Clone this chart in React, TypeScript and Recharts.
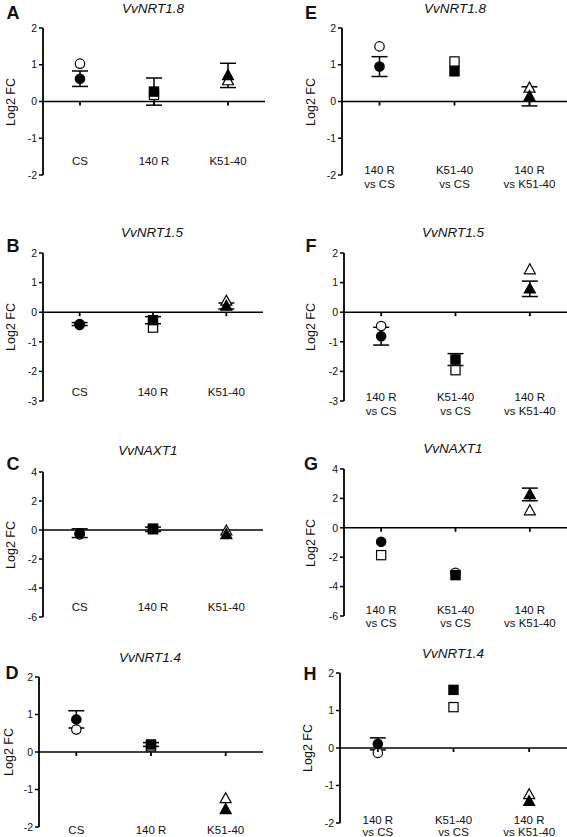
import React from "react";
import {
  ComposedChart, Scatter, ErrorBar, XAxis, YAxis, ReferenceLine,
} from "recharts";

// categories
const ROOTSTOCKS = ["CS", "140 R", "K51-40"];
const COMPARISONS = ["140 R vs CS", "K51-40 vs CS", "140 R vs K51-40"];
const COMP_LINE1 = ["140 R", "K51-40", "140 R"];
const COMP_LINE2 = ["vs CS", "vs CS", "vs K51-40"];

// A–D: rootstock vs control; E–H: pairwise comparisons
// open = RNA-seq, filled = qPCR (mean ± SE)
const aOpen = [1.03, 0.18, 0.57];
const aFilled = [0.62, 0.27, 0.71];
const aErr = [0.21, 0.37, 0.33];

const bOpen = [-0.43, -0.52, 0.38];
const bFilled = [-0.4, -0.27, 0.21];
const bErr = [0.05, 0.12, 0.1];

const cOpen = [-0.3, 0.1, -0.05];
const cFilled = [-0.22, 0.05, -0.3];
const cErr = [0.3, 0.15, 0];

const dOpen = [0.6, 0.15, -1.24];
const dFilled = [0.87, 0.2, -1.53];
const dErr = [0.23, 0.05, 0];

const eOpen = [1.5, 1.09, 0.37];
const eFilled = [0.95, 0.82, 0.14];
const eErr = [0.27, 0, 0.26];

const fOpen = [-0.47, -1.96, 1.44];
const fFilled = [-0.81, -1.6, 0.79];
const fErr = [0.3, 0.2, 0.26];

const gOpen = [-1.86, -3.06, 1.17];
const gFilled = [-0.95, -3.22, 2.27];
const gErr = [0, 0, 0.43];

const hOpen = [-0.13, 1.09, -1.24];
const hFilled = [0.11, 1.55, -1.42];
const hErr = [0.16, 0, 0];

const FONT = '"Liberation Sans", Arial, sans-serif';
const SHAPES = ["circle", "square", "triangle"];

type Panel = {
  letter: string; title: string;
  cats: string[]; open: number[]; filled: number[]; err: number[];
  openShapes?: string[];
  left: number; top: number; width: number; height: number;
  axisX: number; yTop: number; yBottom: number; right: number;
  domain: [number, number]; ticks: number[];
  labelY: number[]; letterX: number; letterY: number;
  titleX: number; titleY: number; yLabelX: number;
};

const PANELS: Panel[] = [
  { letter: "A", title: "VvNRT1.8", cats: ROOTSTOCKS, open: aOpen, filled: aFilled, err: aErr,
    left: 0, top: 0, width: 283, height: 200, axisX: 43, yTop: 28, yBottom: 175, right: 265,
    domain: [-2, 2], ticks: [-2, -1, 0, 1, 2], labelY: [161], letterX: 13, letterY: 13, titleX: 153, titleY: 8, yLabelX: 11 },
  { letter: "B", title: "VvNRT1.5", cats: ROOTSTOCKS, open: bOpen, filled: bFilled, err: bErr,
    left: 0, top: 200, width: 283, height: 210, axisX: 43, yTop: 253, yBottom: 401, right: 263,
    domain: [-3, 2], ticks: [-3, -2, -1, 0, 1, 2], labelY: [392], letterX: 13, letterY: 246, titleX: 152, titleY: 232, yLabelX: 11 },
  { letter: "C", title: "VvNAXT1", cats: ROOTSTOCKS, open: cOpen, filled: cFilled, err: cErr,
    left: 0, top: 410, width: 283, height: 216, axisX: 43, yTop: 472, yBottom: 617, right: 263,
    domain: [-6, 4], ticks: [-6, -4, -2, 0, 2, 4], labelY: [607], letterX: 13, letterY: 464, titleX: 148, titleY: 450, yLabelX: 11 },
  { letter: "D", title: "VvNRT1.4", cats: ROOTSTOCKS, open: dOpen, filled: dFilled, err: dErr,
    left: 0, top: 620, width: 283, height: 217, axisX: 39, yTop: 677, yBottom: 827, right: 263,
    domain: [-2, 2], ticks: [-2, -1, 0, 1, 2], labelY: [830], letterX: 12, letterY: 673, titleX: 150, titleY: 657, yLabelX: 9 },
  { letter: "E", title: "VvNRT1.8", cats: COMPARISONS, open: eOpen, filled: eFilled, err: eErr,
    left: 283, top: 0, width: 284, height: 200, axisX: 342, yTop: 28, yBottom: 175, right: 567,
    domain: [-2, 2], ticks: [-2, -1, 0, 1, 2], labelY: [170, 184], letterX: 311, letterY: 13, titleX: 455, titleY: 8, yLabelX: 311 },
  { letter: "F", title: "VvNRT1.5", cats: COMPARISONS, open: fOpen, filled: fFilled, err: fErr,
    left: 283, top: 200, width: 284, height: 220, axisX: 344, yTop: 253, yBottom: 401, right: 567,
    domain: [-3, 2], ticks: [-3, -2, -1, 0, 1, 2], labelY: [397, 411], letterX: 311, letterY: 246, titleX: 453, titleY: 232, yLabelX: 311 },
  { letter: "G", title: "VvNAXT1", cats: COMPARISONS, open: gOpen, filled: gFilled, err: gErr,
    openShapes: ["square", "circle", "triangle"],
    left: 283, top: 410, width: 284, height: 220, axisX: 344, yTop: 469, yBottom: 616, right: 567,
    domain: [-6, 4], ticks: [-6, -4, -2, 0, 2, 4], labelY: [610, 623], letterX: 311, letterY: 464, titleX: 453, titleY: 448, yLabelX: 311 },
  { letter: "H", title: "VvNRT1.4", cats: COMPARISONS, open: hOpen, filled: hFilled, err: hErr,
    left: 283, top: 620, width: 284, height: 217, axisX: 340, yTop: 673, yBottom: 823, right: 567,
    domain: [-2, 2], ticks: [-2, -1, 0, 1, 2], labelY: [820, 832], letterX: 310, letterY: 674, titleX: 453, titleY: 653, yLabelX: 308 },
];

function Marker({ cx, cy, kind, filled }: { cx: number; cy: number; kind: string; filled: boolean }) {
  const fill = filled ? "#000" : "#fff";
  const common = { fill, stroke: "#000", strokeWidth: 1.2 };
  if (kind === "circle") return <circle cx={cx} cy={cy} r={4.7} {...common} />;
  if (kind === "square") return <rect x={cx - 4.6} y={cy - 4.6} width={9.2} height={9.2} {...common} />;
  return <polygon points={`${cx},${cy - 5.8} ${cx + 5.5},${cy + 4.2} ${cx - 5.5},${cy + 4.2}`} {...common} />;
}

function PanelChart({ p }: { p: Panel }) {
  const rows = p.cats.map((c, i) => ({
    cat: c, i, open: p.open[i], filled: p.filled[i], err: p.err[i],
    errY: p.err[i] > 0 ? p.filled[i] : null,
  }));
  const pxPerUnit = (p.yBottom - p.yTop) / (p.domain[1] - p.domain[0]);
  const zeroY = p.yTop - p.top + pxPerUnit * p.domain[1];
  const pad = (p.right - p.axisX) / 6;
  const comp = p.cats === COMPARISONS;
  const openShapes = p.openShapes || SHAPES;

  const CatTick = (props: any) => {
    const idx = p.cats.indexOf(props.payload.value);
    const lines = comp ? [COMP_LINE1[idx], COMP_LINE2[idx]] : [p.cats[idx]];
    return (
      <g>
        <line x1={props.x} x2={props.x} y1={zeroY} y2={zeroY + 4} stroke="#000" strokeWidth={1.8} />
        {lines.map((t, k) => (
          <text key={k} x={props.x} y={p.labelY[k] - p.top} textAnchor="middle" dominantBaseline="central"
            fontSize={11.5} fontFamily={FONT} fill="#111">{t}</text>
        ))}
      </g>
    );
  };

  return (
    <div style={{ position: "absolute", left: p.left, top: p.top }}>
      <ComposedChart
        width={p.width} height={p.height} data={rows}
        margin={{ top: p.yTop - p.top, right: p.left + p.width - p.right, bottom: p.top + p.height - p.yBottom - 1, left: 0 }}
      >
        <XAxis dataKey="cat" type="category" allowDuplicatedCategory={false} height={1} padding={{ left: pad, right: pad }}
          axisLine={false} tickLine={false} interval={0} tick={CatTick} />
        <YAxis
          type="number" domain={p.domain} ticks={p.ticks} allowDataOverflow interval={0}
          width={p.axisX - p.left} tickSize={4} tickMargin={2}
          axisLine={{ stroke: "#000", strokeWidth: 1.8 }} tickLine={{ stroke: "#000", strokeWidth: 1.5 }}
          tick={{ fontSize: 10.5, fill: "#111", fontFamily: FONT }}
        />
        <ReferenceLine y={0} stroke="#000" strokeWidth={1.6} />
        <Scatter dataKey="open" isAnimationActive={false}
          shape={(s: any) => <Marker cx={s.cx} cy={s.cy} kind={openShapes[s.payload.i]} filled={false} />} />
        <Scatter dataKey="errY" isAnimationActive={false} shape={() => <g />}>
          <ErrorBar dataKey="err" direction="y" width={8} stroke="#000" strokeWidth={1.5} />
        </Scatter>
        <Scatter dataKey="filled" isAnimationActive={false}
          shape={(s: any) => <Marker cx={s.cx} cy={s.cy} kind={SHAPES[s.payload.i]} filled />} />
      </ComposedChart>
    </div>
  );
}

function Labels({ p }: { p: Panel }) {
  const mid = (p.yTop + p.yBottom) / 2;
  const center = { position: "absolute" as const, transform: "translate(-50%, -50%)", whiteSpace: "nowrap" as const, fontFamily: FONT, color: "#111" };
  return (
    <>
      <div style={{ ...center, left: p.letterX, top: p.letterY, fontSize: 18, fontWeight: 700 }}>{p.letter}</div>
      <div style={{ ...center, left: p.titleX, top: p.titleY, fontSize: 13.5, fontStyle: "italic" }}>{p.title}</div>
      <div style={{ ...center, left: p.yLabelX, top: mid, fontSize: 12.5, transform: "translate(-50%, -50%) rotate(-90deg)" }}>Log2 FC</div>
    </>
  );
}

export default function App() {
  return (
    <div style={{ position: "absolute", left: 0, top: 0, width: 567, height: 837, background: "#fff", overflow: "hidden" }}>
      {PANELS.map((p) => <PanelChart key={p.letter} p={p} />)}
      {PANELS.map((p) => <Labels key={"l" + p.letter} p={p} />)}
    </div>
  );
}
